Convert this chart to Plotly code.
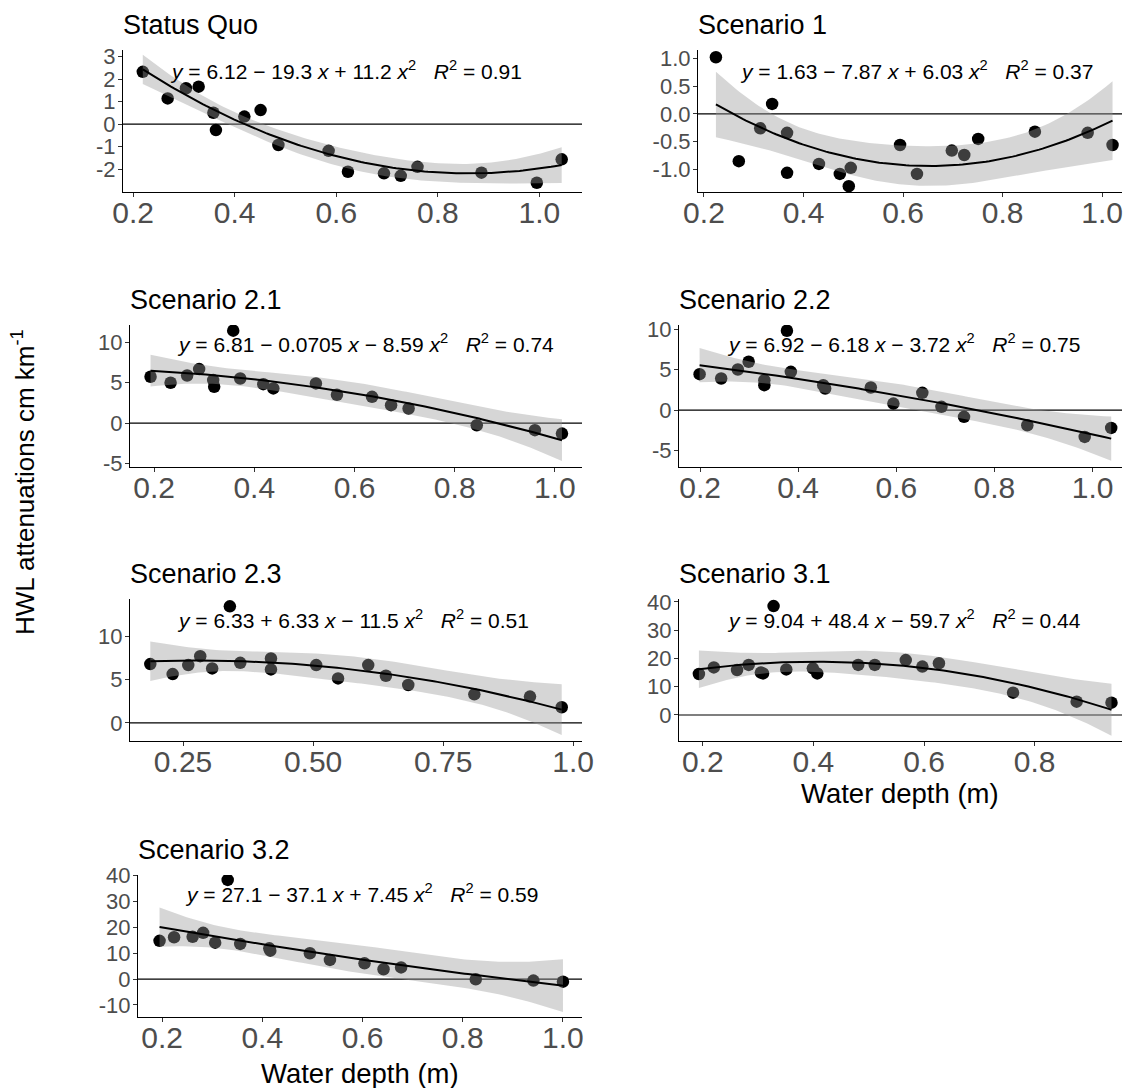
import numpy as np
import plotly.graph_objects as go

# ---------------- data ----------------
panel_titles = ["Status Quo", "Scenario 1", "Scenario 2.1", "Scenario 2.2",
                "Scenario 2.3", "Scenario 3.1", "Scenario 3.2"]

sq_depth = [0.219, 0.268, 0.304, 0.329, 0.358, 0.363, 0.419, 0.451, 0.486,
            0.585, 0.623, 0.694, 0.727, 0.760, 0.886, 0.995, 1.044]
sq_hwl = [2.32, 1.14, 1.59, 1.66, 0.50, -0.27, 0.33, 0.62, -0.93,
          -1.19, -2.12, -2.19, -2.30, -1.90, -2.16, -2.61, -1.57]
sq_coef = [6.12, -19.3, 11.2]
sq_r2 = 0.91

s1_depth = [0.224, 0.270, 0.313, 0.337, 0.367, 0.367, 0.431, 0.473, 0.495,
            0.491, 0.594, 0.628, 0.698, 0.723, 0.751, 0.865, 0.971, 1.021]
s1_hwl = [1.02, -0.85, -0.26, 0.18, -0.34, -1.06, -0.90, -1.08, -0.97,
          -1.30, -0.56, -1.08, -0.66, -0.74, -0.45, -0.32, -0.34, -0.56]
s1_coef = [1.63, -7.87, 6.03]
s1_r2 = 0.37

s21_depth = [0.193, 0.233, 0.266, 0.290, 0.318, 0.320, 0.358, 0.372, 0.418,
             0.438, 0.523, 0.565, 0.635, 0.673, 0.708, 0.844, 0.960, 1.014]
s21_hwl = [5.72, 4.98, 5.88, 6.67, 5.31, 4.49, 11.4, 5.51, 4.81,
           4.28, 4.90, 3.50, 3.25, 2.22, 1.81, -0.25, -0.86, -1.28]
s21_coef = [6.81, -0.0705, -8.59]
s21_r2 = 0.74

s22_depth = [0.199, 0.243, 0.277, 0.299, 0.331, 0.331, 0.377, 0.385, 0.451,
             0.455, 0.548, 0.594, 0.653, 0.692, 0.738, 0.867, 0.984, 1.038]
s22_hwl = [4.44, 3.91, 5.02, 5.97, 3.70, 3.09, 9.79, 4.73, 3.09,
           2.67, 2.80, 0.82, 2.14, 0.41, -0.82, -1.85, -3.29, -2.18]
s22_coef = [6.92, -6.18, -3.72]
s22_r2 = 0.75

s23_depth = [0.187, 0.230, 0.260, 0.283, 0.306, 0.340, 0.360, 0.419, 0.419,
             0.506, 0.548, 0.606, 0.640, 0.683, 0.810, 0.917, 0.978]
s23_hwl = [6.78, 5.63, 6.67, 7.70, 6.28, 13.45, 6.93, 7.43, 6.17,
           6.67, 5.13, 6.67, 5.44, 4.37, 3.29, 3.03, 1.80]
s23_coef = [6.33, 6.33, -11.5]
s23_r2 = 0.51

s31_depth = [0.193, 0.220, 0.262, 0.283, 0.305, 0.309, 0.328, 0.351, 0.399,
             0.407, 0.481, 0.511, 0.567, 0.597, 0.627, 0.761, 0.876, 0.939]
s31_hwl = [14.5, 16.8, 15.9, 17.7, 15.0, 14.7, 38.5, 16.1, 16.5,
           14.7, 17.7, 17.7, 19.4, 17.1, 18.3, 7.9, 4.7, 4.35]
s31_coef = [9.04, 48.4, -59.7]
s31_r2 = 0.44

s32_depth = [0.195, 0.224, 0.261, 0.282, 0.306, 0.331, 0.356, 0.414, 0.416,
             0.495, 0.535, 0.604, 0.642, 0.677, 0.826, 0.941, 1.000]
s32_hwl = [14.8, 16.2, 16.4, 17.9, 14.1, 38.4, 13.6, 11.9, 11.0,
           10.0, 7.4, 6.1, 3.8, 4.5, -0.1, -0.6, -1.0]
s32_coef = [27.1, -37.1, 7.45]
s32_r2 = 0.59

x_tickvals = [[0.2, 0.4, 0.6, 0.8, 1.0]] * 4 + [[0.25, 0.5, 0.75, 1.0],
              [0.2, 0.4, 0.6, 0.8], [0.2, 0.4, 0.6, 0.8, 1.0]]
x_ticktext = [["0.2", "0.4", "0.6", "0.8", "1.0"]] * 4 + [["0.25", "0.50", "0.75", "1.0"],
              ["0.2", "0.4", "0.6", "0.8"], ["0.2", "0.4", "0.6", "0.8", "1.0"]]
y_tickvals = [[-2, -1, 0, 1, 2, 3], [-1.0, -0.5, 0.0, 0.5, 1.0], [-5, 0, 5, 10],
              [-5, 0, 5, 10], [0, 5, 10], [0, 10, 20, 30, 40], [-10, 0, 10, 20, 30, 40]]
y_ticktext = [["-2", "-1", "0", "1", "2", "3"], ["-1.0", "-0.5", "0.0", "0.5", "1.0"],
              ["-5", "0", "5", "10"], ["-5", "0", "5", "10"], ["0", "5", "10"],
              ["0", "10", "20", "30", "40"], ["-10", "0", "10", "20", "30", "40"]]
x_title = "Water depth (m)"
y_title = "HWL attenuations cm km<sup>-1</sup>"

panels_data = [
    (sq_depth, sq_hwl, sq_coef, sq_r2),
    (s1_depth, s1_hwl, s1_coef, s1_r2),
    (s21_depth, s21_hwl, s21_coef, s21_r2),
    (s22_depth, s22_hwl, s22_coef, s22_r2),
    (s23_depth, s23_hwl, s23_coef, s23_r2),
    (s31_depth, s31_hwl, s31_coef, s31_r2),
    (s32_depth, s32_hwl, s32_coef, s32_r2),
]

# ---------------- layout geometry (pixels) ----------------
W, H = 1126, 1088
# left, right, top, bottom of each plotting area
boxes = [(123, 582, 50, 192), (698, 1122, 50, 192),
         (130, 582, 325, 467), (679, 1122, 325, 467),
         (130, 582, 599, 741), (679, 1122, 599, 741),
         (138, 582, 875, 1017)]
x_ranges = [[0.18, 1.084], [0.188, 1.04], [0.152, 1.054], [0.157, 1.06],
            [0.148, 1.017], [0.157, 0.958], [0.152, 1.038]]
y_ranges = [[-3.02, 3.29], [-1.405, 1.15], [-5.4, 12.1], [-7.0, 10.5],
            [-2.1, 14.3], [-9.2, 41.0], [-14.7, 40.3]]
eq_pos = [(168, 70), (738, 70), (175, 343), (725, 343), (175, 619), (725, 619), (183, 893)]

FONT = "Liberation Sans, Arial, sans-serif"


def px(x):
    return x / W


def py(y):
    return 1 - y / H


def t975(df):
    z = 1.959964
    return (z + (z ** 3 + z) / (4 * df) + (5 * z ** 5 + 16 * z ** 3 + 3 * z) / (96 * df ** 2)
            + (3 * z ** 7 + 19 * z ** 5 + 17 * z ** 3 - 15 * z) / (384 * df ** 3))


def fmt_num(v):
    return "{:g}".format(abs(v))


def eq_text(coef, r2):
    a, b, c = coef
    sb = "+" if b >= 0 else "\u2212"
    sc = "+" if c >= 0 else "\u2212"
    return ("<i>y</i> = {} {} {} <i>x</i> {} {} <i>x</i><sup>2</sup>\u00a0\u00a0\u00a0"
            "<i>R</i><sup>2</sup> = {:.2f}").format(fmt_num(a), sb, fmt_num(b), sc, fmt_num(c), r2)


fig = go.Figure()
annotations = []
shapes = []
layout_axes = {}

for i, (xs, ys, coef, r2) in enumerate(panels_data):
    k = i + 1
    xa = "x" if k == 1 else "x%d" % k
    ya = "y" if k == 1 else "y%d" % k
    xs = np.array(xs, dtype=float)
    ys = np.array(ys, dtype=float)
    beta = np.array(coef, dtype=float)
    X = np.column_stack([np.ones_like(xs), xs, xs ** 2])
    resid = ys - X @ beta
    n = len(xs)
    sigma2 = np.sum(resid ** 2) / (n - 3)
    cov = sigma2 * np.linalg.inv(X.T @ X)
    xg = np.linspace(xs.min(), xs.max(), 120)
    Xg = np.column_stack([np.ones_like(xg), xg, xg ** 2])
    fit = Xg @ beta
    se = np.sqrt(np.einsum("ij,jk,ik->i", Xg, cov, Xg))
    tq = t975(n - 3)
    upper = fit + tq * se
    lower = fit - tq * se

    # points first (band drawn over them, as in the reference)
    fig.add_trace(go.Scatter(x=xs, y=ys, mode="markers", xaxis=xa, yaxis=ya,
                             marker=dict(color="black", size=12.5, line=dict(width=0)),
                             hoverinfo="skip"))
    fig.add_trace(go.Scatter(x=np.concatenate([xg, xg[::-1]]),
                             y=np.concatenate([upper, lower[::-1]]),
                             mode="lines", fill="toself", xaxis=xa, yaxis=ya,
                             fillcolor="rgba(153,153,153,0.4)", line=dict(width=0),
                             hoverinfo="skip"))
    fig.add_trace(go.Scatter(x=xg, y=fit, mode="lines", xaxis=xa, yaxis=ya,
                             line=dict(color="black", width=2), hoverinfo="skip"))

    l, r, t, b = boxes[i]
    axname_x = "xaxis" if k == 1 else "xaxis%d" % k
    axname_y = "yaxis" if k == 1 else "yaxis%d" % k
    layout_axes[axname_x] = dict(
        domain=[px(l), px(r)], range=x_ranges[i], anchor=ya, automargin=False,
        tickvals=x_tickvals[i], ticktext=x_ticktext[i],
        showline=True, linecolor="black", linewidth=1.2, mirror=False,
        ticks="outside", ticklen=4, tickcolor="#333333", tickwidth=1,
        ticklabelstandoff=-10,
        tickfont=dict(size=30, color="#4d4d4d", family=FONT),
        showgrid=False, zeroline=False, fixedrange=True)
    layout_axes[axname_y] = dict(
        domain=[py(b), py(t)], range=y_ranges[i], anchor=xa, automargin=False,
        tickvals=y_tickvals[i], ticktext=y_ticktext[i],
        showline=True, linecolor="black", linewidth=1.2, mirror=False,
        ticks="outside", ticklen=4, tickcolor="#333333", tickwidth=1,
        ticklabelstandoff=-2,
        tickfont=dict(size=22, color="#4d4d4d", family=FONT),
        showgrid=False, zeroline=False, fixedrange=True)

    shapes.append(dict(type="line", xref="%s domain" % xa, yref=ya,
                       x0=0, x1=1, y0=0, y1=0, layer="below",
                       line=dict(color="black", width=1.2)))

    # panel title
    annotations.append(dict(text=panel_titles[i], xref="paper", yref="paper",
                            x=px(l - 2), y=py(t - 25), xanchor="left", yanchor="middle",
                            showarrow=False, font=dict(size=27, color="black", family=FONT)))
    # equation label
    ex, ey = eq_pos[i]
    annotations.append(dict(text=eq_text(coef, r2), xref="paper", yref="paper",
                            x=px(ex), y=py(ey), xanchor="left", yanchor="middle",
                            showarrow=False, font=dict(size=21, color="black", family=FONT)))

# axis titles
annotations.append(dict(text=x_title, xref="paper", yref="paper", x=px(900), y=py(793),
                        xanchor="center", yanchor="middle", showarrow=False,
                        font=dict(size=27.5, color="black", family=FONT)))
annotations.append(dict(text=x_title, xref="paper", yref="paper", x=px(360), y=py(1073),
                        xanchor="center", yanchor="middle", showarrow=False,
                        font=dict(size=27.5, color="black", family=FONT)))
annotations.append(dict(text=y_title, xref="paper", yref="paper", x=px(23), y=py(482),
                        xanchor="center", yanchor="middle", showarrow=False, textangle=-90,
                        font=dict(size=26, color="black", family=FONT)))

fig.update_layout(
    width=W, height=H, margin=dict(l=0, r=0, t=0, b=0, autoexpand=False),
    paper_bgcolor="white", plot_bgcolor="white", showlegend=False,
    font=dict(family=FONT), annotations=annotations, shapes=shapes,
    **layout_axes)

fig.write_html("out.html")
